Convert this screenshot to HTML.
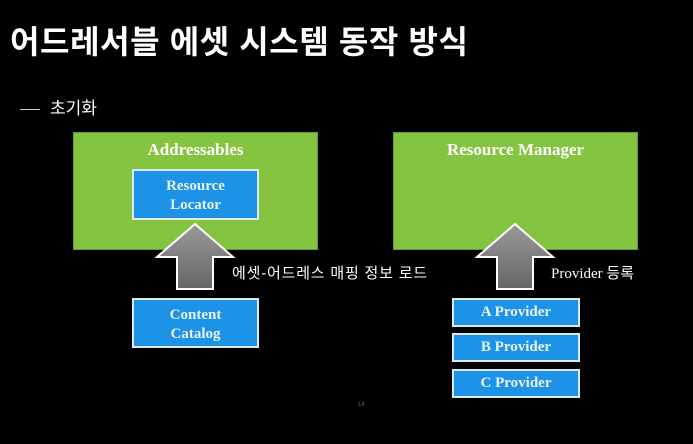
<!DOCTYPE html>
<html><head><meta charset="utf-8"><style>
body{margin:0;width:693px;height:444px;background:#000;overflow:hidden;position:relative;font-family:"Liberation Sans","Noto Sans CJK KR",sans-serif;color:#fff}
.a{position:absolute}
.g{background:#84c441;border:1px solid #5f9a2c;box-sizing:border-box}
.b{background:#1d93e8;border:2px solid #dfe8ef;box-sizing:border-box;font-family:"Liberation Serif",serif;font-weight:bold;color:#eaf3fa;text-align:center;font-size:14px}
.t{font-family:"Liberation Serif",serif;font-weight:bold;font-size:17px;text-align:center}
</style></head><body>
<div class="a" style="left:10px;top:17px;font-size:32px;font-weight:bold;white-space:nowrap;letter-spacing:0.6px">어드레서블 에셋 시스템 동작 방식</div>
<div class="a" style="left:20px;top:94px;font-size:17px;white-space:nowrap"><span style="display:inline-block;width:20px;height:1px;background:#ccc;vertical-align:middle;margin-right:10px"></span>초기화</div>
<div class="a g" style="left:73px;top:132px;width:245px;height:118px"></div>
<div class="a t" style="left:73px;top:140px;width:245px">Addressables</div>
<div class="a b" style="left:132px;top:169px;width:127px;height:51px;padding-top:6px;line-height:19px;font-size:15px">Resource<br>Locator</div>
<div class="a g" style="left:393px;top:132px;width:245px;height:118px"></div>
<div class="a t" style="left:393px;top:140px;width:245px">Resource Manager</div>
<svg class="a" style="left:0;top:0" width="693" height="444">
<defs><linearGradient id="gr" x1="0" y1="0" x2="0" y2="1"><stop offset="0" stop-color="#999"/><stop offset="1" stop-color="#666"/></linearGradient></defs>
<polygon points="195,224 233,257 213,257 213,289 177,289 177,257 157,257" fill="url(#gr)" stroke="#fff" stroke-width="2"/>
<polygon points="515,224 553,257 533,257 533,289 497,289 497,257 477,257" fill="url(#gr)" stroke="#fff" stroke-width="2"/>
</svg>
<div class="a b" style="left:132px;top:298px;width:127px;height:50px;padding-top:6px;line-height:19px;font-size:15px">Content<br>Catalog</div>
<div class="a b" style="left:452px;top:298px;width:128px;height:29px;line-height:25px;font-size:15px">A Provider</div>
<div class="a b" style="left:452px;top:333px;width:128px;height:29px;line-height:25px;font-size:15px">B Provider</div>
<div class="a b" style="left:452px;top:369px;width:128px;height:29px;line-height:25px;font-size:15px">C Provider</div>
<div class="a" style="left:232px;top:262px;font-size:15px;white-space:nowrap;letter-spacing:0.8px">에셋-어드레스 매핑 정보 로드</div>
<div class="a" style="left:551px;top:262px;font-size:15px;white-space:nowrap;font-family:'Liberation Serif','Noto Sans CJK KR',serif">Provider 등록</div>
<div class="a" style="left:358px;top:402px;font-size:6px;color:#666">14</div>
</body></html>
